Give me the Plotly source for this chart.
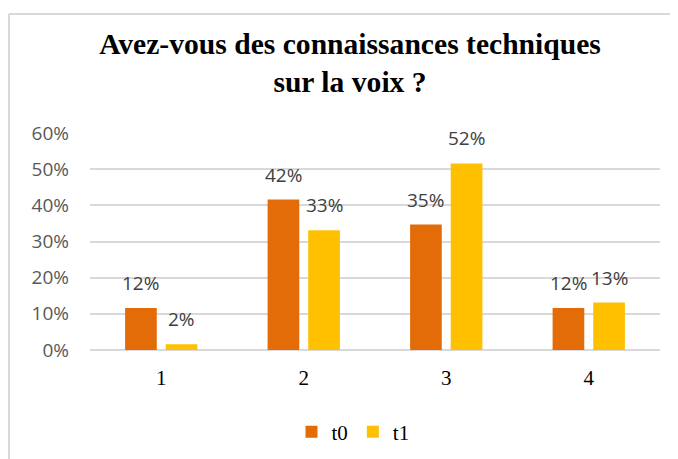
import plotly.graph_objects as go

categories = ["1", "2", "3", "4"]
t0 = [0.116, 0.416, 0.347, 0.116]
t1 = [0.016, 0.331, 0.516, 0.131]
series_names = ["t0", "t1"]
colors = ["#E36C09", "#FFC000"]

# page body adds an 8px margin, so the figure is drawn 8px in from the window edge
OFF = 8
W, H = 678 - OFF, 459 - OFF
L, R, T, B = 90 - OFF, 678 - 660, 133 - OFF, 459 - 350
pw, ph = W - L - R, H - T - B
BARGAP = 0.43

def px_to_paper(x, y):
    # x, y are window pixels
    return (x - OFF - L) / pw, (H - B - (y - OFF)) / ph

fig = go.Figure()
for name, vals, col in zip(series_names, [t0, t1], colors):
    fig.add_trace(go.Bar(
        x=categories, y=vals, name=name,
        marker=dict(color=col, line=dict(width=0)),
        cliponaxis=False,
    ))

# value labels above the bars, offset like Excel's (sits a bit higher than plotly's own)
slot = pw / len(categories) * (1 - BARGAP) / 2
for i, vals in enumerate([t0, t1]):
    shift = (i - 0.5) * slot
    for k, v in enumerate(vals):
        # on a category axis a numeric x is the category index
        fig.add_annotation(x=k, y=v, text=f"{round(v * 100)}%", showarrow=False,
                           xshift=shift, yshift=10, yanchor="bottom",
                           font=dict(family="Open Sans", size=19, color="#404040"))

# light grey frame (top and left edges of the Excel chart area)
x0, y0 = px_to_paper(9, 14)
x1, y1 = px_to_paper(700, 480)
fig.add_shape(type="line", xref="paper", yref="paper", x0=x0, y0=y0, x1=x1, y1=y0,
              line=dict(color="#d9d9d9", width=2))
fig.add_shape(type="line", xref="paper", yref="paper", x0=x0, y0=y0, x1=x0, y1=y1,
              line=dict(color="#d9d9d9", width=2))

lx, ly = px_to_paper(353, 432)
fig.update_layout(
    width=W, height=H,
    margin=dict(l=L, r=R, t=T, b=B, autoexpand=False),
    paper_bgcolor="white", plot_bgcolor="white",
    title=dict(text="Avez-vous des connaissances techniques<br>sur la voix ?",
               x=(350 - OFF) / W, xanchor="center", y=1 - 46 / H, yanchor="middle",
               font=dict(family="Liberation Serif, serif", size=29.6, color="black", weight="bold")),
    barmode="group", bargap=BARGAP, bargroupgap=0.22,
    showlegend=True,
    legend=dict(orientation="h", x=lx, xanchor="center", y=ly, yanchor="middle",
                font=dict(family="Liberation Serif, serif", size=21, color="black"),
                itemwidth=30, traceorder="normal"),
    yaxis=dict(range=[0, 0.6], dtick=0.1, tickformat=".0%",
               gridcolor="#d9d9d9", gridwidth=2, zeroline=True, zerolinecolor="#d9d9d9",
               zerolinewidth=2, showline=False, ticklabelstandoff=20,
               tickfont=dict(family="Open Sans", size=19, color="#595959")),
    xaxis=dict(type="category", range=[-0.5, len(categories) - 0.5],
               showline=False, ticks="", ticklabelstandoff=13,
               tickfont=dict(family="Liberation Serif, serif", size=21, color="black")),
)

fig.write_html("out.html")
